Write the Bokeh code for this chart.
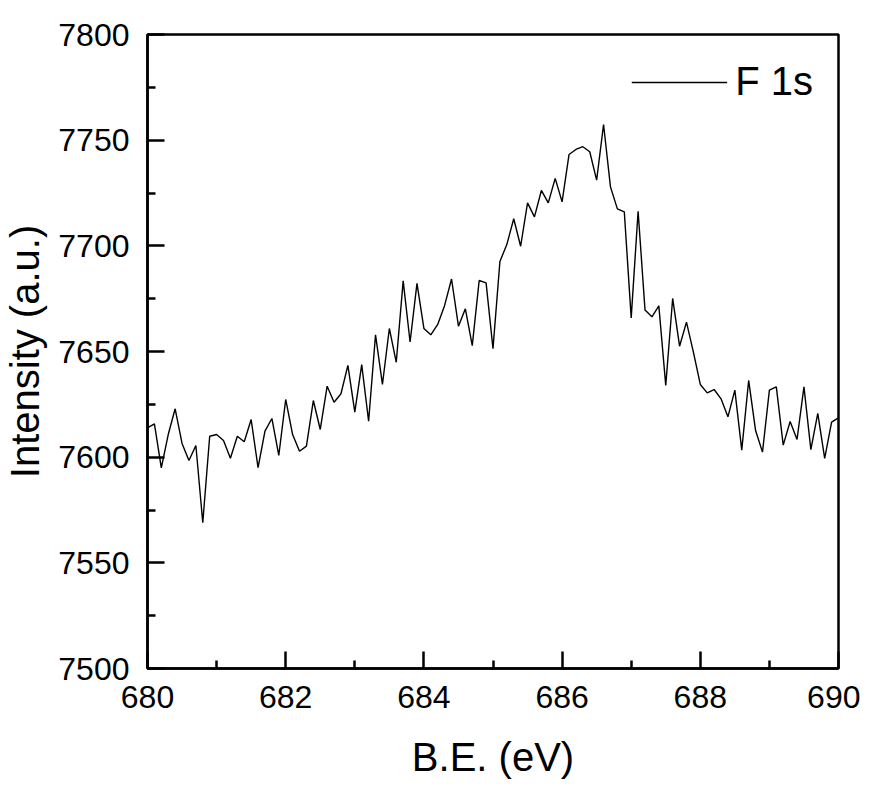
from bokeh.plotting import figure
from bokeh.embed import file_html
from bokeh.resources import INLINE
from bokeh.models import FixedTicker, Range1d, Legend, LegendItem

# Binding energy (eV), 0.1 eV steps
energy = [
    680.0, 680.1, 680.2, 680.3, 680.4, 680.5, 680.6, 680.7, 680.8, 680.9,
    681.0, 681.1, 681.2, 681.3, 681.4, 681.5, 681.6, 681.7, 681.8, 681.9,
    682.0, 682.1, 682.2, 682.3, 682.4, 682.5, 682.6, 682.7, 682.8, 682.9,
    683.0, 683.1, 683.2, 683.3, 683.4, 683.5, 683.6, 683.7, 683.8, 683.9,
    684.0, 684.1, 684.2, 684.3, 684.4, 684.5, 684.6, 684.7, 684.8, 684.9,
    685.0, 685.1, 685.2, 685.3, 685.4, 685.5, 685.6, 685.7, 685.8, 685.9,
    686.0, 686.1, 686.2, 686.3, 686.4, 686.5, 686.6, 686.7, 686.8, 686.9,
    687.0, 687.1, 687.2, 687.3, 687.4, 687.5, 687.6, 687.7, 687.8, 687.9,
    688.0, 688.1, 688.2, 688.3, 688.4, 688.5, 688.6, 688.7, 688.8, 688.9,
    689.0, 689.1, 689.2, 689.3, 689.4, 689.5, 689.6, 689.7, 689.8, 689.9,
    690.0,
]

# F 1s intensity (a.u.)
intensity = [
    7613.9, 7615.8, 7594.9, 7610.7, 7622.9, 7606.5, 7598.4, 7605.5, 7569.0, 7609.9,
    7610.7, 7607.9, 7599.5, 7609.9, 7607.3, 7617.8, 7595.0, 7612.3, 7618.3, 7600.8,
    7627.3, 7610.7, 7602.8, 7605.2, 7626.8, 7613.1, 7633.6, 7626.0, 7630.0, 7643.4,
    7621.3, 7643.8, 7617.0, 7657.9, 7634.4, 7660.9, 7644.9, 7683.4, 7654.5, 7682.2,
    7660.9, 7657.9, 7662.8, 7671.8, 7684.3, 7662.0, 7670.2, 7652.8, 7683.6, 7682.5,
    7651.3, 7692.6, 7700.6, 7712.8, 7699.8, 7720.3, 7713.7, 7726.2, 7720.3, 7731.9,
    7720.8, 7743.2, 7745.6, 7746.9, 7744.5, 7731.1, 7757.4, 7727.9, 7717.5, 7716.1,
    7665.9, 7716.4, 7669.6, 7666.4, 7671.6, 7633.9, 7675.1, 7652.5, 7663.9, 7649.7,
    7634.4, 7630.4, 7632.0, 7627.6, 7619.1, 7631.7, 7603.3, 7636.3, 7612.6, 7602.4,
    7631.7, 7633.3, 7605.7, 7616.9, 7608.4, 7633.3, 7603.6, 7620.7, 7599.4, 7616.6,
    7618.6,
]

x_major = [680, 682, 684, 686, 688, 690]
x_minor = [681, 683, 685, 687, 689]
y_major = [7500, 7550, 7600, 7650, 7700, 7750, 7800]
y_minor = [7525, 7575, 7625, 7675, 7725, 7775]

FONT = "Liberation Sans"

p = figure(
    width=855, height=771,
    frame_width=691, frame_height=634,
    x_range=Range1d(680, 690), y_range=Range1d(7500, 7800),
    output_backend="svg", toolbar_location=None,
    min_border_left=142, min_border_right=22, min_border_top=34, min_border_bottom=95,
)
p.background_fill_color = "white"
p.border_fill_color = "white"
p.xgrid.visible = False
p.ygrid.visible = False
p.outline_line_color = "black"
p.outline_line_width = 2.5

r = p.line(energy, intensity, line_color="black", line_width=1.4)

for ax, maj, mnr in ((p.xaxis[0], x_major, x_minor), (p.yaxis[0], y_major, y_minor)):
    ax.ticker = FixedTicker(ticks=maj, minor_ticks=mnr)
    ax.axis_line_color = "black"
    ax.axis_line_width = 2.5
    ax.major_tick_line_color = "black"
    ax.major_tick_line_width = 2.5
    ax.minor_tick_line_color = "black"
    ax.minor_tick_line_width = 2.5
    ax.major_tick_in = 17
    ax.major_tick_out = 0
    ax.minor_tick_in = 8
    ax.minor_tick_out = 0
    ax.major_label_text_font = FONT
    ax.major_label_text_font_size = "32px"
    ax.major_label_text_color = "black"
    ax.axis_label_text_font = FONT
    ax.axis_label_text_font_size = "40px"
    ax.axis_label_text_font_style = "normal"
    ax.axis_label_text_color = "black"

p.xaxis.axis_label = "B.E. (eV)"
p.yaxis.axis_label = "Intensity (a.u.)"
p.xaxis.major_label_standoff = 17
p.yaxis.major_label_standoff = 18
p.xaxis.axis_label_standoff = 24
p.yaxis.axis_label_standoff = 8

legend = Legend(
    items=[LegendItem(label="F 1s", renderers=[r])],
    location="top_right",
    border_line_alpha=0,
    background_fill_alpha=0,
    glyph_width=96,
    glyph_height=30,
    label_standoff=8,
    label_text_font=FONT,
    label_text_font_size="40px",
    label_text_color="black",
    margin=7,
    padding=18,
)
p.add_layout(legend)

open("out.html", "w").write(file_html(p, INLINE))
